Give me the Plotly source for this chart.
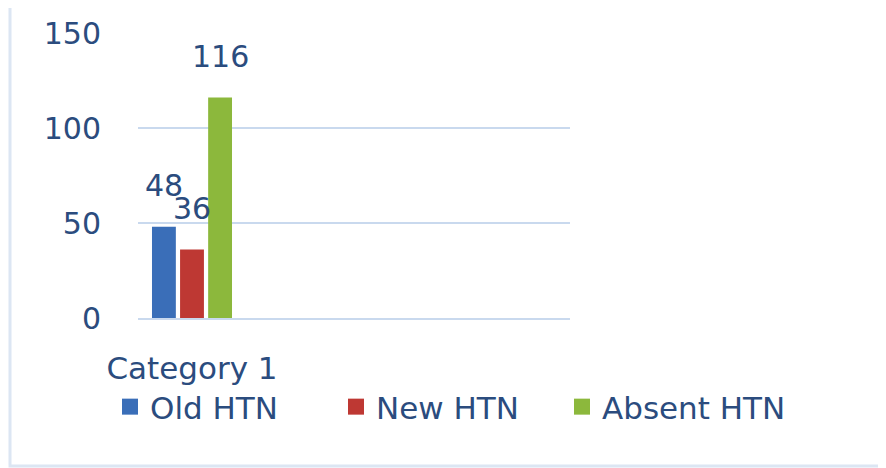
import plotly.graph_objects as go

categories = ["Category 1", "c2", "c3", "c4"]
tick_labels = ["Category 1", "", "", ""]
series_names = ["Old HTN", "New HTN", "Absent HTN"]
series_values = [[48], [36], [116]]
series_colors = ["#3A6EB8", "#BE3833", "#8CB83C"]

TEXT = "#2B4C7E"
GRID = "#C9D9EE"
FONT = "DejaVu Sans"

W, H = 886, 468
OFF = 8  # page body margin offset
ML, MR, MT, MB = 138 - OFF, 316 + OFF, 33 - OFF, 150 + OFF
BARGAP, GROUPGAP = 0.22, 0.15

fig = go.Figure()
for name, vals, col in zip(series_names, series_values, series_colors):
    fig.add_trace(go.Bar(
        x=categories[:len(vals)], y=vals, name=name, showlegend=False,
        marker=dict(color=col, line=dict(width=0)),
    ))
# legend entries with larger square keys
for name, col in zip(series_names, series_colors):
    fig.add_trace(go.Scatter(
        x=[None], y=[None], name=name, mode="markers",
        marker=dict(symbol="square", size=20, color=col, line=dict(width=0)),
    ))

# data labels above bars (offset like the original)
plot_w = W - ML - MR
plot_h = H - MT - MB
cat_px = plot_w / len(categories)
pitch = cat_px * (1 - BARGAP) / len(series_names)
annots = []
for i, vals in enumerate(series_values):
    for j, v in enumerate(vals):
        annots.append(dict(
            x=categories[j], y=v, xref="x", yref="y", text=str(v),
            showarrow=False, yanchor="bottom",
            xshift=(i - (len(series_names) - 1) / 2) * pitch,
            yshift=22, font=dict(family=FONT, size=30, color=TEXT),
        ))

fig.update_layout(
    width=W, height=H,
    margin=dict(l=ML, r=MR, t=MT, b=MB, autoexpand=False),
    paper_bgcolor="white", plot_bgcolor="white",
    barmode="group", bargap=BARGAP, bargroupgap=GROUPGAP,
    font=dict(family=FONT, color=TEXT),
    showlegend=True,
    legend=dict(
        orientation="h", xref="paper", yref="paper",
        x=(788 - OFF - ML) / plot_w, xanchor="right",
        y=(H - MB - (407 - OFF)) / plot_h, yanchor="middle",
        font=dict(family=FONT, size=31, color=TEXT),
        entrywidth=181, entrywidthmode="pixels",
        bgcolor="rgba(0,0,0,0)",
    ),
    annotations=annots,
    shapes=[dict(
        type="rect", xref="paper", yref="paper",
        x0=(10 - OFF - ML) / plot_w, x1=2.0,
        y0=(H - MB - (466 - OFF)) / plot_h, y1=(H - MB - (6 - OFF)) / plot_h,
        line=dict(color="#DCE6F3", width=3), fillcolor="rgba(0,0,0,0)",
        layer="below",
    )],
)
fig.update_xaxes(
    type="category", categoryorder="array", categoryarray=categories,
    tickvals=categories, ticktext=tick_labels, range=[-0.5, len(categories) - 0.5],
    showgrid=False, showline=True, linecolor=GRID, linewidth=2,
    ticks="", tickfont=dict(family=FONT, size=31, color=TEXT),
    ticklabelstandoff=22, zeroline=False, automargin=False,
)
fig.update_yaxes(
    range=[0, 150], tickvals=[0, 50, 100, 150],
    showgrid=True, gridcolor=GRID, gridwidth=2,
    showline=False, zeroline=False, ticks="",
    tickfont=dict(family=FONT, size=30, color=TEXT),
    ticklabelstandoff=36, automargin=False,
)

fig.write_html("out.html")
